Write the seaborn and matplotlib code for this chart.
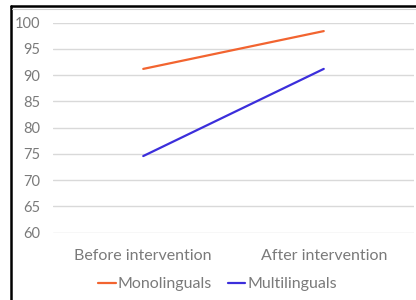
import matplotlib
matplotlib.use("Agg")
import matplotlib.pyplot as plt
import seaborn as sns
import pandas as pd

# values
stages = ["Before intervention", "After intervention"]
monolinguals = [91.2, 98.4]
multilinguals = [74.6, 91.2]
series_names = ["Monolinguals", "Multilinguals"]

df = pd.DataFrame({
    "stage": stages * 2,
    "score": monolinguals + multilinguals,
    "group": [series_names[0]] * 2 + [series_names[1]] * 2,
})

sns.set_style("white")
plt.rcParams["font.family"] = ["Lato", "DejaVu Sans"]

fig = plt.figure(figsize=(4.16, 3.0), dpi=100)
ax = fig.add_axes([53 / 416, 67.3 / 300, 361 / 416, 210 / 300])

sns.lineplot(data=df, x="stage", y="score", hue="group",
             palette=["#F26430", "#3B2EDB"], linewidth=1.6, ax=ax,
             legend=True)

ax.set_xlim(-0.5, 1.5)
ax.set_ylim(60, 100)
ax.set_yticks(range(60, 101, 5))
ax.yaxis.grid(True, color="#D9D9D9", linewidth=1.0)
ax.set_axisbelow(True)
for s in ax.spines.values():
    s.set_visible(False)
ax.set_xlabel("")
ax.set_ylabel("")
ax.tick_params(axis="y", length=0, pad=9, labelsize=10.5, labelcolor="#7A7A7A")
ax.tick_params(axis="x", length=0, pad=12, labelsize=11.5, labelcolor="#7A7A7A")

ax.get_legend().remove()
handles, labels = ax.get_legend_handles_labels()
fig.legend(handles, labels, loc="center", bbox_to_anchor=(0.523, 0.053),
           ncol=2, frameon=False, fontsize=11.5, handlelength=1.1,
           handletextpad=0.1, columnspacing=1.0, labelcolor="#7A7A7A")

# outer chart border (black, cropped at right and bottom)
fig.add_artist(plt.Line2D([10.5 / 416, 10.5 / 416], [0, 1 - 5.5 / 300],
                          transform=fig.transFigure, color="black", linewidth=1.8))
fig.add_artist(plt.Line2D([10.5 / 416, 1], [1 - 5.5 / 300, 1 - 5.5 / 300],
                          transform=fig.transFigure, color="black", linewidth=1.8))
fig.add_artist(plt.Line2D([12 / 416, 1], [1 - 8.5 / 300, 1 - 8.5 / 300],
                          transform=fig.transFigure, color="#D0D0D0", linewidth=0.8))

fig.savefig("out.png", dpi=100)
